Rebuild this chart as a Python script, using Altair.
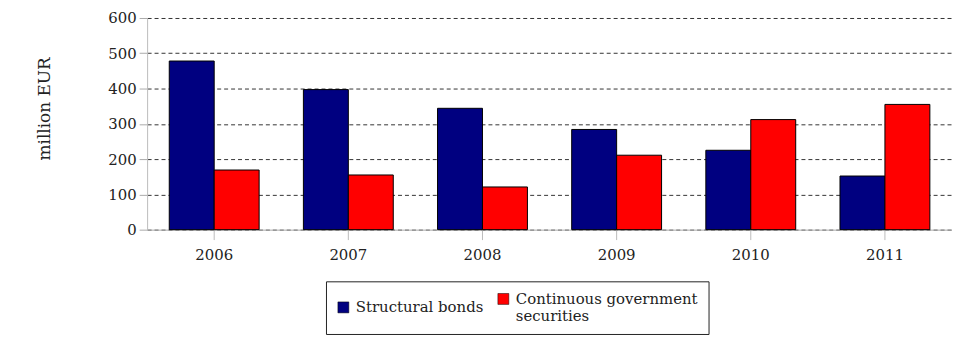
import altair as alt
import pandas as pd

years = ["2006", "2007", "2008", "2009", "2010", "2011"]
structural = [478, 397, 344, 284, 225, 152]
continuous = [169, 155, 121, 211, 312, 355]
series = ["Structural bonds", "Continuous government securities"]
colors = ["#000080", "#ff0000"]

rows = []
for i, y in enumerate(years):
    rows.append({"year": y, "series": series[0], "value": structural[i]})
    rows.append({"year": y, "series": series[1], "value": continuous[i]})
df = pd.DataFrame(rows)

FONT = "DejaVu Serif"

chart = alt.Chart(df).mark_bar(stroke="black", strokeWidth=1).encode(
    x=alt.X("year:N", sort=years, title=None,
            scale=alt.Scale(paddingInner=0.33, paddingOuter=0.165),
            axis=alt.Axis(labelAngle=0, labelFont=FONT, labelFontSize=15, labelColor="#222",
                          tickSize=10, tickColor="#bbb", labelPadding=8,
                          domainColor="#aaa", bandPosition=0.5)),
    xOffset=alt.XOffset("series:N", sort=series),
    y=alt.Y("value:Q", title="million EUR",
            scale=alt.Scale(domain=[0, 600]),
            axis=alt.Axis(values=[0, 100, 200, 300, 400, 500, 600], labelFont=FONT,
                          labelFontSize=15, labelColor="#222", tickSize=8, tickColor="#aaa",
                          labelPadding=3, domainColor="#bbb",
                          grid=True, gridDash=[4, 3], gridColor="#333", gridWidth=1,
                          titleFont=FONT, titleFontSize=17, titleFontWeight="normal",
                          titleColor="#222", titleAngle=-90, titleX=-103, titleY=91,
                          titleAlign="center", titleBaseline="middle")),
    color=alt.Color("series:N", sort=series,
                    scale=alt.Scale(domain=series, range=colors),
                    legend=alt.Legend(title=None, orient="none", legendX=180, legendY=265,
                                      direction="horizontal", columns=2,
                                      labelFont=FONT, labelFontSize=15, labelColor="#222",
                                      labelLimit=400, labelOffset=5, symbolType="square",
                                      symbolSize=121,
                                      symbolStrokeColor="black", symbolStrokeWidth=0.5,
                                      strokeColor="#222", padding=10, columnPadding=12,
                                      labelExpr="datum.label == 'Continuous government securities' ? ['Continuous government', 'securities'] : datum.label")),
).properties(
    width=810, height=213,
    padding={"left": 140, "top": 9, "right": 0, "bottom": 110},
    autosize=alt.AutoSizeParams(type="none"),
).configure_view(stroke=None)

chart.save("out.html", embed_options={"renderer": "svg", "actions": False})
